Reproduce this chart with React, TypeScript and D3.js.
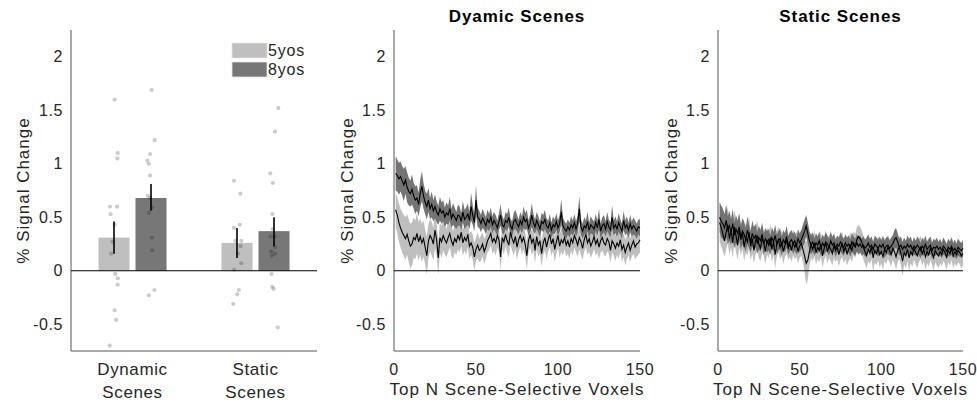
import React from 'react';
import * as d3 from 'd3';

// ---- bar panel data ----
const categories = ['Dynamic', 'Static'];
const categoryLines = [['Dynamic', 'Scenes'], ['Static', 'Scenes']];
const groups = ['5yos', '8yos'];
const barMeans = [[0.31, 0.68], [0.26, 0.37]];
const barLow = [[0.16, 0.56], [0.12, 0.23]];
const barHigh = [[0.46, 0.81], [0.40, 0.50]];

// individual subjects: [value, jitter as fraction of bar width]
const dynDots5 = [[1.60, 0.02], [1.10, 0.12], [1.05, 0.11], [0.60, -0.13], [0.60, 0.10], [0.53, -0.11], [0.43, 0.02], [0.27, -0.05], [0.16, -0.09], [-0.03, 0.04], [-0.07, 0.12], [-0.13, 0.12], [-0.37, 0.02], [-0.46, 0.07], [-0.70, -0.14]];
const dynDots8 = [[1.69, 0.02], [1.22, 0.12], [1.09, -0.03], [1.03, -0.12], [1.00, -0.07], [0.89, -0.03], [0.70, -0.10], [0.68, -0.03], [0.59, 0.04], [0.54, -0.07], [0.31, 0.03], [0.19, 0.04], [-0.18, 0.11], [-0.23, -0.07]];
const statDots5 = [[1.83, 0.03], [0.84, -0.10], [0.72, 0.11], [0.40, -0.10], [0.43, 0.09], [0.28, -0.05], [0.28, 0.14], [0.23, 0.12], [0.16, 0.03], [0.07, 0.14], [0.01, -0.09], [-0.18, 0.06], [-0.22, 0.01], [-0.31, -0.12]];
const statDots8 = [[1.52, 0.14], [1.30, 0.03], [0.91, -0.12], [0.82, -0.04], [0.53, -0.05], [0.39, -0.04], [0.32, -0.11], [0.32, 0.02], [0.22, 0.03], [0.18, -0.09], [0.16, 0.03], [0.14, -0.07], [-0.03, -0.08], [-0.15, -0.06], [-0.17, -0.01], [-0.53, 0.12]];
const dots = [[dynDots5, dynDots8], [statDots5, statDots8]];

const yTicks = [-0.5, 0, 0.5, 1, 1.5, 2];
const xTicks = [0, 50, 100, 150];

// ---- top N voxel curves (N = 1..150) ----
const dyn8 = [
  0.91, 0.89, 0.86, 0.88, 0.84, 0.80, 0.85, 0.78, 0.74, 0.72, 0.76, 0.70, 0.66, 0.68, 0.62,
  0.72, 0.79, 0.70, 0.64, 0.60, 0.66, 0.58, 0.62, 0.56, 0.60, 0.55, 0.52, 0.58, 0.54, 0.56,
  0.50, 0.54, 0.52, 0.58, 0.49, 0.53, 0.50, 0.47, 0.52, 0.51, 0.46, 0.55, 0.48, 0.50, 0.53,
  0.47, 0.60, 0.52, 0.45, 0.66, 0.50, 0.48, 0.44, 0.49, 0.46, 0.42, 0.48, 0.45, 0.50, 0.43,
  0.47, 0.44, 0.40, 0.46, 0.52, 0.43, 0.41, 0.47, 0.45, 0.50, 0.42, 0.39, 0.46, 0.48, 0.44,
  0.41, 0.47, 0.43, 0.50, 0.46, 0.48, 0.40, 0.44, 0.52, 0.45, 0.41, 0.47, 0.43, 0.39, 0.46,
  0.44, 0.48, 0.42, 0.40, 0.45, 0.38, 0.43, 0.41, 0.46, 0.40, 0.44, 0.55, 0.42, 0.39, 0.37,
  0.41, 0.38, 0.43, 0.40, 0.45, 0.39, 0.44, 0.58, 0.41, 0.37, 0.42, 0.40, 0.46, 0.38, 0.43,
  0.41, 0.39, 0.45, 0.40, 0.48, 0.37, 0.42, 0.44, 0.39, 0.46, 0.41, 0.38, 0.50, 0.40, 0.43,
  0.39, 0.45, 0.41, 0.37, 0.47, 0.40, 0.43, 0.38, 0.44, 0.39, 0.42, 0.40, 0.37, 0.41, 0.40,
];
const dyn8se = [
  0.16, 0.15, 0.15, 0.14, 0.14, 0.15, 0.13, 0.14, 0.13, 0.12, 0.14, 0.12, 0.13, 0.12, 0.11,
  0.13, 0.14, 0.12, 0.11, 0.12, 0.11, 0.10, 0.12, 0.10, 0.11, 0.10, 0.09, 0.11, 0.10, 0.10,
  0.09, 0.10, 0.09, 0.11, 0.09, 0.10, 0.09, 0.08, 0.10, 0.09, 0.08, 0.10, 0.09, 0.09, 0.10,
  0.08, 0.13, 0.09, 0.08, 0.14, 0.09, 0.08, 0.08, 0.09, 0.08, 0.08, 0.09, 0.08, 0.09, 0.08,
  0.08, 0.08, 0.07, 0.08, 0.10, 0.08, 0.07, 0.08, 0.08, 0.09, 0.07, 0.07, 0.08, 0.09, 0.08,
  0.07, 0.08, 0.08, 0.10, 0.08, 0.09, 0.07, 0.08, 0.11, 0.08, 0.07, 0.08, 0.08, 0.07, 0.08,
  0.08, 0.09, 0.07, 0.07, 0.08, 0.07, 0.08, 0.07, 0.08, 0.07, 0.08, 0.12, 0.08, 0.07, 0.07,
  0.07, 0.07, 0.08, 0.07, 0.08, 0.07, 0.08, 0.12, 0.07, 0.07, 0.08, 0.07, 0.09, 0.07, 0.08,
  0.07, 0.07, 0.08, 0.07, 0.10, 0.07, 0.08, 0.08, 0.07, 0.09, 0.07, 0.07, 0.11, 0.07, 0.08,
  0.07, 0.09, 0.07, 0.07, 0.09, 0.07, 0.08, 0.07, 0.08, 0.07, 0.08, 0.07, 0.07, 0.07, 0.08,
];
const dyn5 = [
  0.57, 0.52, 0.45, 0.40, 0.36, 0.33, 0.30, 0.34, 0.28, 0.23, 0.25, 0.31, 0.29, 0.35, 0.27,
  0.32, 0.26, 0.30, 0.22, 0.14, 0.28, 0.33, 0.30, 0.25, 0.38, 0.29, 0.12, 0.31, 0.27, 0.33,
  0.29, 0.26, 0.31, 0.35, 0.28, 0.24, 0.30, 0.27, 0.33, 0.29, 0.36, 0.26, 0.31, 0.28, 0.34,
  0.23, 0.26, 0.22, 0.13, 0.20, 0.24, 0.19, 0.21, 0.25, 0.18, 0.22, 0.28, 0.31, 0.35, 0.27,
  0.30, 0.26, 0.33, 0.29, 0.13, 0.31, 0.27, 0.34, 0.28, 0.24, 0.36, 0.30, 0.26, 0.32, 0.22,
  0.29, 0.33, 0.27, 0.31, 0.25, 0.14, 0.28, 0.34, 0.26, 0.30, 0.19, 0.32, 0.24, 0.28, 0.16,
  0.26, 0.31, 0.22, 0.29, 0.34, 0.25, 0.30, 0.20, 0.27, 0.33, 0.23, 0.29, 0.26, 0.31, 0.24,
  0.28, 0.22, 0.30, 0.26, 0.33, 0.29, 0.24, 0.31, 0.27, 0.21, 0.29, 0.34, 0.26, 0.30, 0.23,
  0.27, 0.32, 0.25, 0.29, 0.22, 0.28, 0.31, 0.26, 0.24, 0.30, 0.27, 0.19, 0.28, 0.25, 0.21,
  0.26, 0.23, 0.29, 0.20, 0.24, 0.17, 0.22, 0.26, 0.19, 0.24, 0.28, 0.22, 0.25, 0.26, 0.29,
];
const dyn5se = [
  0.16, 0.17, 0.18, 0.18, 0.19, 0.19, 0.20, 0.19, 0.20, 0.21, 0.20, 0.19, 0.18, 0.19, 0.18,
  0.17, 0.18, 0.17, 0.16, 0.18, 0.16, 0.15, 0.16, 0.15, 0.17, 0.15, 0.16, 0.14, 0.15, 0.14,
  0.14, 0.13, 0.14, 0.13, 0.14, 0.13, 0.13, 0.12, 0.13, 0.12, 0.13, 0.12, 0.12, 0.13, 0.12,
  0.12, 0.11, 0.12, 0.13, 0.11, 0.12, 0.11, 0.12, 0.11, 0.12, 0.11, 0.11, 0.12, 0.11, 0.11,
  0.11, 0.12, 0.11, 0.11, 0.13, 0.11, 0.12, 0.11, 0.11, 0.12, 0.11, 0.11, 0.12, 0.11, 0.12,
  0.11, 0.11, 0.12, 0.11, 0.11, 0.13, 0.11, 0.12, 0.11, 0.11, 0.12, 0.11, 0.11, 0.12, 0.12,
  0.11, 0.12, 0.11, 0.11, 0.12, 0.11, 0.11, 0.12, 0.11, 0.12, 0.11, 0.11, 0.12, 0.11, 0.11,
  0.12, 0.11, 0.11, 0.12, 0.11, 0.12, 0.11, 0.11, 0.12, 0.11, 0.11, 0.12, 0.11, 0.12, 0.11,
  0.11, 0.12, 0.11, 0.12, 0.11, 0.11, 0.12, 0.11, 0.11, 0.12, 0.11, 0.12, 0.11, 0.11, 0.12,
  0.11, 0.12, 0.11, 0.12, 0.11, 0.12, 0.11, 0.12, 0.11, 0.11, 0.12, 0.11, 0.12, 0.11, 0.12,
];
const stat8 = [
  0.50, 0.46, 0.44, 0.40, 0.47, 0.38, 0.42, 0.36, 0.44, 0.33, 0.39, 0.35, 0.41, 0.31, 0.37,
  0.34, 0.29, 0.38, 0.32, 0.27, 0.35, 0.30, 0.33, 0.26, 0.31, 0.28, 0.34, 0.25, 0.30, 0.27,
  0.29, 0.24, 0.31, 0.27, 0.33, 0.25, 0.28, 0.30, 0.23, 0.29, 0.26, 0.32, 0.24, 0.27, 0.29,
  0.25, 0.28, 0.23, 0.30, 0.26, 0.29, 0.33, 0.37, 0.42, 0.35, 0.28, 0.24, 0.27, 0.22, 0.26,
  0.24, 0.28, 0.21, 0.26, 0.23, 0.27, 0.25, 0.22, 0.28, 0.24, 0.26, 0.21, 0.25, 0.23, 0.27,
  0.24, 0.22, 0.26, 0.23, 0.25, 0.21, 0.27, 0.24, 0.22, 0.26, 0.23, 0.25, 0.22, 0.24, 0.21,
  0.23, 0.26, 0.22, 0.24, 0.20, 0.25, 0.23, 0.21, 0.24, 0.22, 0.25, 0.20, 0.23, 0.24, 0.21,
  0.23, 0.25, 0.29, 0.31, 0.27, 0.22, 0.24, 0.20, 0.23, 0.21, 0.25, 0.22, 0.24, 0.20, 0.23,
  0.21, 0.24, 0.22, 0.19, 0.23, 0.21, 0.25, 0.20, 0.22, 0.24, 0.19, 0.22, 0.21, 0.23, 0.20,
  0.22, 0.19, 0.23, 0.21, 0.18, 0.22, 0.20, 0.23, 0.19, 0.21, 0.18, 0.22, 0.20, 0.19, 0.21,
];
const stat8se = [
  0.14, 0.15, 0.14, 0.13, 0.15, 0.13, 0.14, 0.12, 0.14, 0.12, 0.13, 0.12, 0.13, 0.11, 0.12,
  0.12, 0.11, 0.13, 0.11, 0.10, 0.12, 0.11, 0.11, 0.10, 0.11, 0.10, 0.11, 0.10, 0.10, 0.10,
  0.10, 0.09, 0.10, 0.09, 0.10, 0.09, 0.09, 0.10, 0.09, 0.09, 0.09, 0.10, 0.09, 0.09, 0.09,
  0.09, 0.09, 0.08, 0.09, 0.09, 0.09, 0.10, 0.11, 0.10, 0.10, 0.09, 0.09, 0.09, 0.08, 0.09,
  0.08, 0.09, 0.08, 0.08, 0.08, 0.09, 0.08, 0.08, 0.09, 0.08, 0.08, 0.08, 0.08, 0.08, 0.09,
  0.08, 0.08, 0.08, 0.08, 0.08, 0.08, 0.09, 0.08, 0.08, 0.08, 0.08, 0.08, 0.08, 0.08, 0.08,
  0.08, 0.08, 0.08, 0.08, 0.07, 0.08, 0.08, 0.08, 0.08, 0.07, 0.08, 0.08, 0.08, 0.08, 0.07,
  0.08, 0.08, 0.09, 0.09, 0.08, 0.08, 0.08, 0.07, 0.08, 0.07, 0.08, 0.08, 0.08, 0.07, 0.08,
  0.07, 0.08, 0.08, 0.07, 0.08, 0.07, 0.08, 0.07, 0.08, 0.08, 0.07, 0.08, 0.07, 0.08, 0.07,
  0.08, 0.07, 0.08, 0.07, 0.07, 0.08, 0.07, 0.08, 0.07, 0.08, 0.07, 0.08, 0.07, 0.07, 0.08,
];
const stat5 = [
  0.45, 0.40, 0.34, 0.28, 0.36, 0.43, 0.30, 0.38, 0.26, 0.41, 0.33, 0.24, 0.37, 0.29, 0.35,
  0.22, 0.31, 0.27, 0.36, 0.23, 0.30, 0.19, 0.28, 0.33, 0.25, 0.21, 0.30, 0.26, 0.18, 0.28,
  0.24, 0.31, 0.20, 0.27, 0.15, 0.25, 0.29, 0.22, 0.26, 0.18, 0.24, 0.28, 0.21, 0.25, 0.19,
  0.27, 0.22, 0.25, 0.18, 0.23, 0.26, 0.20, 0.14, 0.07, 0.10, 0.18, 0.24, 0.20, 0.26, 0.17,
  0.22, 0.19, 0.25, 0.14, 0.21, 0.26, 0.18, 0.23, 0.20, 0.16, 0.24, 0.19, 0.22, 0.15, 0.21,
  0.25, 0.18, 0.22, 0.16, 0.20, 0.24, 0.19, 0.26, 0.23, 0.29, 0.32, 0.30, 0.27, 0.22, 0.18,
  0.14, 0.20, 0.17, 0.22, 0.12, 0.19, 0.16, 0.21, 0.15, 0.18, 0.13, 0.20, 0.17, 0.22, 0.19,
  0.15, 0.21, 0.18, 0.13, 0.19, 0.22, 0.16, 0.09, 0.17, 0.14, 0.20, 0.12, 0.18, 0.15, 0.21,
  0.17, 0.14, 0.19, 0.22, 0.16, 0.20, 0.13, 0.18, 0.15, 0.21, 0.17, 0.12, 0.19, 0.16, 0.14,
  0.18, 0.15, 0.20, 0.17, 0.13, 0.19, 0.16, 0.21, 0.14, 0.18, 0.15, 0.19, 0.17, 0.14, 0.16,
];
const stat5se = [
  0.18, 0.17, 0.16, 0.15, 0.16, 0.17, 0.15, 0.16, 0.14, 0.16, 0.15, 0.14, 0.15, 0.14, 0.15,
  0.13, 0.14, 0.13, 0.15, 0.13, 0.14, 0.12, 0.13, 0.14, 0.13, 0.12, 0.13, 0.12, 0.12, 0.13,
  0.12, 0.13, 0.12, 0.12, 0.13, 0.12, 0.12, 0.11, 0.12, 0.12, 0.11, 0.12, 0.11, 0.12, 0.11,
  0.12, 0.11, 0.12, 0.11, 0.11, 0.12, 0.12, 0.15, 0.20, 0.18, 0.13, 0.12, 0.11, 0.12, 0.11,
  0.11, 0.11, 0.12, 0.11, 0.11, 0.12, 0.11, 0.11, 0.11, 0.11, 0.12, 0.11, 0.11, 0.11, 0.11,
  0.12, 0.11, 0.11, 0.11, 0.11, 0.12, 0.11, 0.11, 0.11, 0.12, 0.11, 0.11, 0.11, 0.11, 0.12,
  0.12, 0.11, 0.11, 0.11, 0.13, 0.11, 0.11, 0.11, 0.12, 0.11, 0.12, 0.11, 0.11, 0.11, 0.11,
  0.11, 0.11, 0.11, 0.12, 0.11, 0.11, 0.11, 0.14, 0.11, 0.12, 0.11, 0.12, 0.11, 0.11, 0.11,
  0.11, 0.12, 0.11, 0.11, 0.11, 0.11, 0.12, 0.11, 0.11, 0.11, 0.11, 0.12, 0.11, 0.11, 0.12,
  0.11, 0.11, 0.11, 0.11, 0.12, 0.11, 0.11, 0.11, 0.12, 0.11, 0.11, 0.11, 0.11, 0.12, 0.11,
];

const W = 977;
const H = 402;
const FONT = '"Liberation Sans", Arial, Helvetica, sans-serif';
const LIGHT = '#bfbfbf';
const DARK = '#777777';
const AXIS = '#555555';
const TEXT = '#262626';

const yTop = 30;
const yBottom = 351;
const y = d3.scaleLinear().domain([-0.75, 2.25]).range([yBottom, yTop]);

const YAxis = ({ x0, labelX }: { x0: number; labelX: number }) => (
  <g>
    <line x1={x0} x2={x0} y1={yTop} y2={yBottom} stroke={AXIS} strokeWidth={1} />
    {yTicks.map((t) => (
      <text key={t} x={x0 - 8} y={y(t)} dy="0.35em" textAnchor="end" fontSize={16}
        letterSpacing={0.6} fill={TEXT}>
        {t}
      </text>
    ))}
    <text
      transform={`translate(${labelX},${(yTop + yBottom) / 2}) rotate(-90)`}
      textAnchor="middle"
      fontSize={17}
      letterSpacing={1}
      fill={TEXT}
    >
      % Signal Change
    </text>
  </g>
);

const BarPanel = () => {
  const x0 = 71;
  const x1 = 317;
  const outer = d3.scaleBand().domain(categories).range([x0, x1]).paddingInner(0.447).paddingOuter(0.2235);
  const inner = d3.scaleBand().domain(groups).range([0, outer.bandwidth()]).paddingInner(0.162).paddingOuter(0);
  const colors = [LIGHT, DARK];
  return (
    <g>
      <YAxis x0={x0} labelX={29} />
      <line x1={x0} x2={x1} y1={yBottom} y2={yBottom} stroke={AXIS} />
      {categories.map((c, ci) =>
        groups.map((g, gi) => {
          const bx = (outer(c) as number) + (inner(g) as number);
          return (
            <rect key={c + g} x={bx} y={y(barMeans[ci][gi])} width={inner.bandwidth()}
              height={y(0) - y(barMeans[ci][gi])} fill={colors[gi]} />
          );
        })
      )}
      <line x1={x0} x2={x1} y1={y(0)} y2={y(0)} stroke="#000" strokeWidth={1.2} />
      {categories.map((c, ci) =>
        groups.map((g, gi) => {
          const cx = (outer(c) as number) + (inner(g) as number) + inner.bandwidth() / 2;
          return dots[ci][gi].map(([v, j], k) => (
            <circle key={c + g + k} cx={cx + j * inner.bandwidth()} cy={y(v)} r={2.1} fill="#000" fillOpacity={0.2} />
          ));
        })
      )}
      {categories.map((c, ci) =>
        groups.map((g, gi) => {
          const cx = (outer(c) as number) + (inner(g) as number) + inner.bandwidth() / 2;
          return (
            <line key={'e' + c + g} x1={cx} x2={cx} y1={y(barLow[ci][gi])} y2={y(barHigh[ci][gi])}
              stroke="#000" strokeWidth={1.6} />
          );
        })
      )}
      {categoryLines.map((lines, ci) => {
        const cx = (outer(categories[ci]) as number) + outer.bandwidth() / 2;
        return lines.map((l, li) => (
          <text key={l + ci} x={cx} y={375 + li * 23} textAnchor="middle" fontSize={17}
            letterSpacing={0.6} fill={TEXT}>
            {l}
          </text>
        ));
      })}
      {groups.map((g, gi) => (
        <g key={g}>
          <rect x={232} y={43 + gi * 19} width={35} height={15} fill={colors[gi]} stroke="#e6e6e6" strokeWidth={0.8} />
          <text x={268} y={56 + gi * 19} fontSize={16} letterSpacing={0.8} fill={TEXT}>{g}</text>
        </g>
      ))}
    </g>
  );
};

const LinePanel = ({ x0, x1, labelX, title, m5, s5, m8, s8 }: any) => {
  const x = d3.scaleLinear().domain([0, 150]).range([x0, x1]);
  const area = d3.area<number>()
    .x((_, i) => x(i + 1));
  const band = (m: number[], s: number[]) =>
    area.y0((_, i) => y(m[i] - s[i])).y1((_, i) => y(m[i] + s[i]))(m) as string;
  const line = (m: number[]) =>
    d3.line<number>().x((_, i) => x(i + 1)).y((d) => y(d))(m) as string;
  return (
    <g>
      <text x={(x0 + x1) / 2} y={22} textAnchor="middle" fontSize={17} fontWeight="bold"
        letterSpacing={0.9} fill="#000">
        {title}
      </text>
      <YAxis x0={x0} labelX={labelX} />
      <line x1={x0} x2={x1} y1={yBottom} y2={yBottom} stroke={AXIS} />
      {xTicks.map((t) => (
        <text key={t} x={x(t)} y={375} textAnchor="middle" fontSize={16} letterSpacing={0.6} fill={TEXT}>{t}</text>
      ))}
      <text x={(x0 + x1) / 2} y={395} textAnchor="middle" fontSize={17} letterSpacing={1} fill={TEXT}>
        Top N Scene-Selective Voxels
      </text>
      <path d={band(m5, s5)} fill={LIGHT} />
      <path d={band(m8, s8)} fill="#686868" fillOpacity={0.92} />
      <line x1={x0} x2={x1} y1={y(0)} y2={y(0)} stroke="#000" strokeWidth={1.2} />
      <path d={line(m8)} fill="none" stroke="#000" strokeWidth={1.1} />
      <path d={line(m5)} fill="none" stroke="#000" strokeWidth={1.1} />
    </g>
  );
};

export default function App() {
  return (
    <svg width={W} height={H} style={{ position: 'absolute', left: 0, top: 0, background: '#fff' }}
      fontFamily={FONT}>
      <BarPanel />
      <LinePanel x0={394} x1={640} labelX={353} title="Dyamic Scenes"
        m5={dyn5} s5={dyn5se} m8={dyn8} s8={dyn8se} />
      <LinePanel x0={718} x1={963} labelX={677} title="Static Scenes"
        m5={stat5} s5={stat5se} m8={stat8} s8={stat8se} />
    </svg>
  );
}
